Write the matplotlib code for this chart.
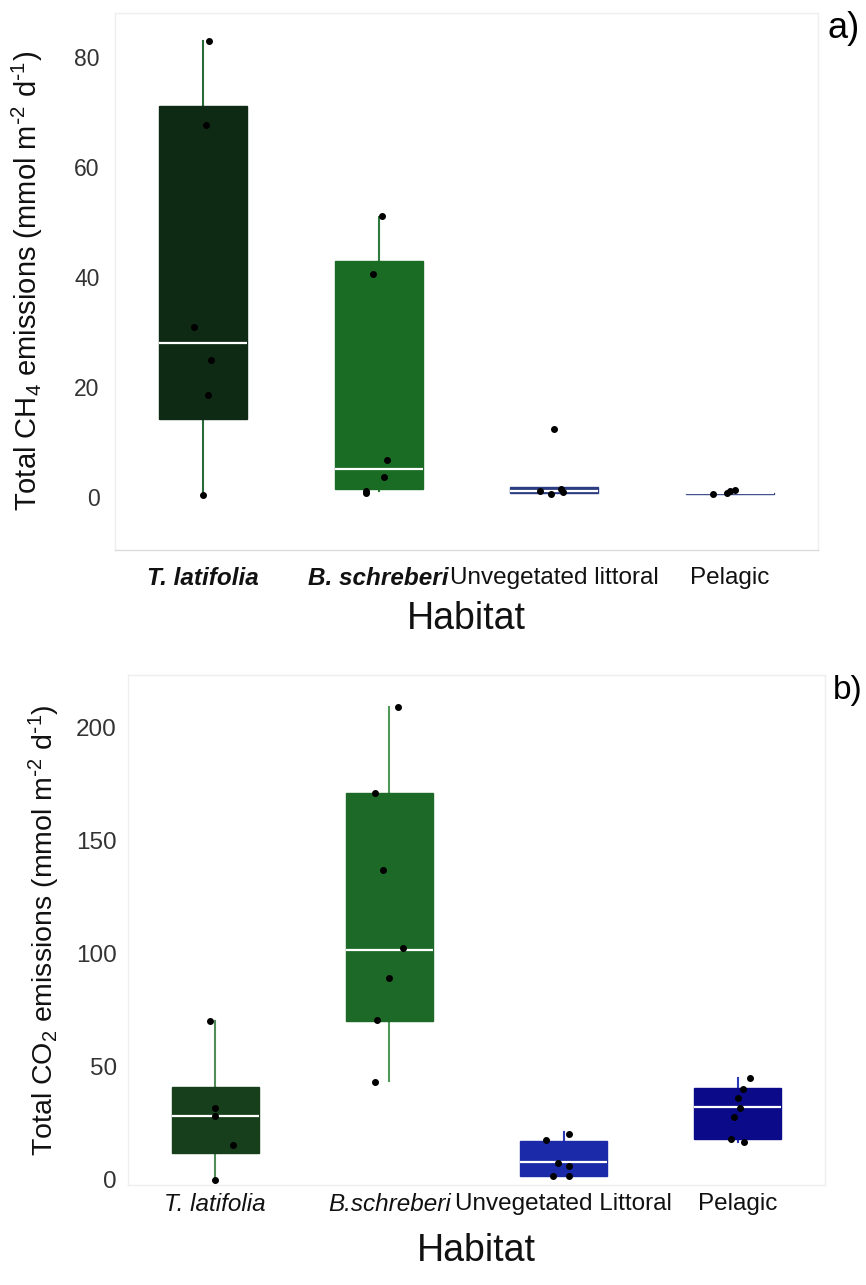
import numpy as np
import matplotlib.pyplot as plt

plt.rcParams['font.family'] = ['Liberation Sans', 'DejaVu Sans']
plt.rcParams['mathtext.default'] = 'regular'

# habitats
habitats = [1, 2, 3, 4]

# panel a) CH4 box stats (read from picture)
ch4_q1 = [14.2, 1.4, 0.7, 0.6]
ch4_med = [28.1, 5.2, 1.2, 0.7]
ch4_q3 = [71.1, 43.0, 1.8, 0.8]
ch4_lo = [0.3, 1.1, 0.7, 0.6]
ch4_hi = [82.9, 50.9, 1.8, 0.8]

# CH4 points
ch4_tl = [82.9, 67.6, 30.9, 24.9, 18.6, 0.3]
ch4_bs = [51.0, 40.5, 6.8, 3.6, 1.1, 0.8]
ch4_ul = [12.3, 1.2, 0.5, 1.5, 1.0]
ch4_pe = [0.5, 0.8, 1.1, 1.3]

# panel b) CO2 box stats
co2_q1 = [12.0, 70.4, 1.7, 18.0]
co2_med = [28.3, 101.6, 8.1, 32.1]
co2_q3 = [41.2, 170.8, 17.2, 40.7]
co2_lo = [0.0, 43.8, 1.7, 16.8]
co2_hi = [70.0, 209.0, 21.0, 45.0]

# CO2 points
co2_tl = [70.0, 31.8, 28.3, 15.5, 0.0]
co2_bs = [209.0, 171.0, 137.0, 102.5, 89.3, 70.5, 43.3]
co2_ul = [20.3, 17.5, 7.7, 6.0, 1.7, 1.7]
co2_pe = [45.0, 40.0, 36.0, 32.0, 27.8, 18.0, 16.8]

labels_a = ['T. latifolia', 'B. schreberi', 'Unvegetated littoral', 'Pelagic']
labels_b = ['T. latifolia', 'B.schreberi', 'Unvegetated Littoral', 'Pelagic']

# small horizontal jitter for the dots
jit_a = [[0.035, 0.02, -0.05, 0.045, 0.03, 0.0],
         [0.02, -0.03, 0.05, 0.03, -0.07, -0.07],
         [0.0, -0.08, -0.02, 0.04, 0.05],
         [-0.1, -0.02, 0.0, 0.03]]
jit_b = [[-0.03, 0.0, 0.0, 0.1, 0.0],
         [0.05, -0.08, -0.035, 0.08, 0.0, -0.07, -0.08],
         [0.03, -0.1, -0.03, 0.03, -0.06, 0.03],
         [0.07, 0.03, 0.0, 0.01, -0.02, -0.04, 0.035]]

fill_a = ['#0f2a14', '#1a6b24', '#2c3c80', '#2c3c80']
fill_b = ['#183f1c', '#1d6a28', '#1a2aa8', '#0b0b8a']
whisk_a = ['#2a6a38', '#2e7a3c', '#2c3c80', '#2c3c80']
whisk_b = ['#4f8c58', '#4f9a5a', '#2a3ab8', '#2a3ab8']


def draw(ax, q1, med, q3, lo, hi, pts, jit, fills, whisks):
    stats = []
    for i in range(4):
        stats.append(dict(q1=q1[i], med=med[i], q3=q3[i],
                          whislo=lo[i], whishi=hi[i], fliers=[]))
    bp = ax.bxp(stats, positions=habitats, widths=0.5, patch_artist=True,
                showcaps=False, showfliers=False)
    for i in range(4):
        bp['boxes'][i].set_facecolor(fills[i])
        bp['boxes'][i].set_edgecolor(fills[i])
        bp['boxes'][i].set_linewidth(1)
        bp['medians'][i].set_color('white')
        bp['medians'][i].set_linewidth(1.6)
        for w in bp['whiskers'][2 * i:2 * i + 2]:
            w.set_color(whisks[i])
            w.set_linewidth(1.5)
            w.set_zorder(0)
    for i in range(4):
        xs = np.array(habitats[i]) + np.array(jit[i])
        ax.plot(xs, pts[i], 'o', color='black', markersize=4, zorder=5)
    ax.set_xlim(0.5, 4.5)
    for s in ax.spines.values():
        s.set_color('#efefef')
        s.set_linewidth(1)
    ax.tick_params(length=0, colors='#333333')


fig = plt.figure(figsize=(8.66, 12.85), dpi=100)

ax1 = fig.add_axes([0.1328, 0.572, 0.8118, 0.418])
draw(ax1, ch4_q1, ch4_med, ch4_q3, ch4_lo, ch4_hi,
     [ch4_tl, ch4_bs, ch4_ul, ch4_pe], jit_a, fill_a, whisk_a)
ax1.set_ylim(-9.6, 88)
ax1.set_yticks([0, 20, 40, 60, 80])
ax1.spines['bottom'].set_color('#dcdcdc')
ax1.set_xticks(habitats)
ax1.set_xticklabels(labels_a, fontsize=17.5, color='#111111')
for t in ax1.get_xticklabels()[:2]:
    t.set_fontstyle('italic')
    t.set_fontweight('bold')
ax1.tick_params(axis='x', pad=12)
ax1.tick_params(axis='y', pad=11, labelsize=16.5)
ax1.set_xlabel('Habitat', fontsize=27, color='#111111', labelpad=8)
ax1.set_ylabel(r'Total CH$_4$ emissions (mmol m$^{\text{-}2}$ d$^{\text{-}1}$)',
               fontsize=21, color='#111111')
ax1.yaxis.set_label_coords(-0.10, 0.5)
fig.text(0.955, 0.978, 'a)', fontsize=26, ha='left', va='center')

ax2 = fig.add_axes([0.1478, 0.0782, 0.8048, 0.3965])
draw(ax2, co2_q1, co2_med, co2_q3, co2_lo, co2_hi,
     [co2_tl, co2_bs, co2_ul, co2_pe], jit_b, fill_b, whisk_b)
ax2.set_ylim(-2, 223)
ax2.set_yticks([0, 50, 100, 150, 200])
ax2.set_xticks(habitats)
ax2.set_xticklabels(labels_b, fontsize=17.5, color='#111111')
for t in ax2.get_xticklabels()[:2]:
    t.set_fontstyle('italic')
ax2.tick_params(axis='x', pad=6)
ax2.tick_params(axis='y', pad=8, labelsize=17.5)
ax2.set_xlabel('Habitat', fontsize=27, color='#111111', labelpad=12)
ax2.set_ylabel(r'Total CO$_2$ emissions (mmol m$^{\text{-}2}$ d$^{\text{-}1}$)',
               fontsize=20.5, color='#111111')
ax2.yaxis.set_label_coords(-0.095, 0.5)
fig.text(0.962, 0.463, 'b)', fontsize=24, ha='left', va='center')

fig.savefig('out.png', dpi=100)
